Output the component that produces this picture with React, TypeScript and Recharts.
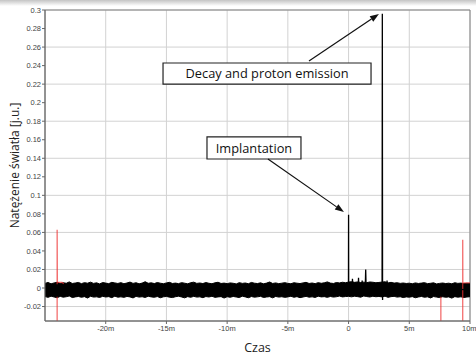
import React from 'react';
import {
  ComposedChart,
  Area,
  Line,
  XAxis,
  YAxis,
  CartesianGrid,
  ReferenceArea,
  ReferenceLine,
} from 'recharts';

// time axis in "m" units, light intensity in j.u.
const xTicks = [-20, -15, -10, -5, 0, 5, 10];
const yTicks = [-0.02, 0, 0.02, 0.04, 0.06, 0.08, 0.1, 0.12, 0.14, 0.16, 0.18, 0.2, 0.22, 0.24, 0.26, 0.28, 0.3];

// noise envelope of the black trace, sampled every 0.25m from -25m
const bandStart = -25;
const bandStep = 0.25;
const bandHigh = [
  0.005, 0.006, 0.0045, 0.0055, 0.0062, 0.0048, 0.0057, 0.0051, 0.0066, 0.0049, 0.0054, 0.006, 0.0047, 0.0058, 0.0052, 0.0063, 0.005, 0.0056, 0.0044, 0.0059,
  0.0053, 0.0047, 0.0061, 0.0055, 0.0049, 0.0058, 0.0046, 0.0054, 0.0064, 0.005, 0.0057, 0.0045, 0.0053, 0.0068, 0.0051, 0.0056, 0.0048, 0.0059, 0.0052, 0.0046,
  0.0055, 0.0061, 0.0049, 0.0053, 0.0047, 0.0058, 0.0052, 0.0045, 0.0057, 0.0063, 0.005, 0.0054, 0.0048, 0.0059, 0.0051, 0.0046, 0.0056, 0.0062, 0.0049, 0.0053,
  0.0047, 0.0055, 0.0051, 0.0044, 0.0058, 0.005, 0.0054, 0.0046, 0.006, 0.0052, 0.0048, 0.0056, 0.0045, 0.0053, 0.0065, 0.0049, 0.0055, 0.0047, 0.0052, 0.0058,
  0.005, 0.0046, 0.0057, 0.0052, 0.0048, 0.0055, 0.0061, 0.0049, 0.0054, 0.0047, 0.0058, 0.0051, 0.0056, 0.0066, 0.0053, 0.0049, 0.0059, 0.0055, 0.0062, 0.0057,
  0.0064, 0.0068, 0.0061, 0.0066, 0.0059, 0.0063, 0.0058, 0.0065, 0.0062, 0.0057, 0.006, 0.0064, 0.0067, 0.0055, 0.0061, 0.0053, 0.0057, 0.005, 0.0054, 0.0049,
  0.0052, 0.0046, 0.0055, 0.0049, 0.0053, 0.0058, 0.0047, 0.0051, 0.0056, 0.0044, 0.005, 0.0054, 0.0048, 0.0052, 0.0045, 0.0057, 0.005, 0.0053, 0.0047, 0.0051,
  0.0049,
];
const bandLow = [
  -0.0092, -0.0101, -0.0088, -0.0097, -0.0105, -0.009, -0.0099, -0.0094, -0.0086, -0.0103, -0.0096, -0.0091, -0.01, -0.0093, -0.0108, -0.0089, -0.0098, -0.0095, -0.0102, -0.009,
  -0.0097, -0.0093, -0.0104, -0.0088, -0.0099, -0.0095, -0.0101, -0.0091, -0.0096, -0.0107, -0.009, -0.0098, -0.0094, -0.0102, -0.0089, -0.0096, -0.01, -0.0092, -0.0105, -0.0095,
  -0.0091, -0.0099, -0.0103, -0.0094, -0.0088, -0.0097, -0.0106, -0.0093, -0.01, -0.009, -0.0098, -0.0095, -0.0104, -0.0092, -0.0097, -0.0089, -0.0101, -0.0096, -0.0093, -0.0108,
  -0.0094, -0.01, -0.0091, -0.0097, -0.0103, -0.0088, -0.0096, -0.0105, -0.0092, -0.0099, -0.0095, -0.009, -0.0102, -0.0097, -0.0093, -0.0106, -0.0091, -0.0098, -0.0094, -0.0101,
  -0.0096, -0.0089, -0.01, -0.0093, -0.0104, -0.0097, -0.009, -0.0099, -0.0095, -0.0102, -0.0088, -0.0096, -0.0093, -0.0101, -0.0091, -0.0098, -0.0094, -0.0087, -0.0096, -0.0092,
  -0.009, -0.0095, -0.0088, -0.0093, -0.0099, -0.0086, -0.0092, -0.0097, -0.0089, -0.0094, -0.0091, -0.0096, -0.0088, -0.0101, -0.0093, -0.009, -0.0098, -0.0094, -0.0103, -0.0096,
  -0.0099, -0.0093, -0.0105, -0.0097, -0.0091, -0.01, -0.0095, -0.0107, -0.0092, -0.0098, -0.0103, -0.0094, -0.01, -0.0096, -0.0109, -0.0093, -0.0099, -0.0095, -0.0102, -0.0097,
  -0.0094,
];

// black trace events (spikes above the noise)
const eventTimes = [-25, -0.01, 0, 0.01, 0.3, 0.32, 0.34, 0.55, 0.57, 0.59, 0.8, 0.82, 0.84, 1.1, 1.12, 1.14, 1.38, 1.41, 1.44, 2.76, 2.78, 2.8, 2.82, 3.15, 3.17, 3.19, 10];
const eventValues = [-0.002, -0.002, 0.079, 0.003, 0.003, 0.01, 0.004, 0.004, 0.006, 0.003, 0.004, 0.011, 0.004, 0.004, 0.008, 0.003, 0.004, 0.02, 0.004, 0.003, 0.296, -0.013, -0.002, 0.003, 0.008, 0.002, -0.002];

// red trace (second channel); only the parts poking out of the black noise (null = hidden)
const redTimes = [-24.0, -24.0, -24.0, -24.0, -24.0, -23.98, -23.6, -23.45, -23.4, 7.6, 7.6, 7.61, 9.4, 9.4, 9.41, 9.43, 10];
const redValues = [-0.036, -0.0095, null, 0.004, 0.063, 0.006, 0.006, 0.0045, null, -0.0095, -0.036, null, -0.036, 0.052, 0.0055, 0.0055, 0.0055];

const bandData = bandHigh.map((hi, i) => ({ t: bandStart + i * bandStep, hi, lo: bandLow[i] }));
const eventData = eventTimes.map((t, i) => ({ t, v: eventValues[i] }));
const redData = redTimes.map((t, i) => ({ t, v: redValues[i] }));

const Y_MIN = -0.0356;
const Y_MAX = 0.3;

const fmtX = (v: number) => (v === 0 ? '0' : `${v}m`);
const fmtY = (v: number) => String(Number(v.toFixed(2)));

const Arrow = (props: any) => {
  const { x1, y1, x2, y2 } = props;
  if (x1 == null) return null;
  const ang = Math.atan2(y2 - y1, x2 - x1);
  const len = 9;
  const w = 3.2;
  const bx = x2 - len * Math.cos(ang);
  const by = y2 - len * Math.sin(ang);
  const px = -Math.sin(ang) * w;
  const py = Math.cos(ang) * w;
  return (
    <g>
      <line x1={x1} y1={y1} x2={bx} y2={by} stroke="#111" strokeWidth={1.2} />
      <polygon points={`${x2},${y2} ${bx + px},${by + py} ${bx - px},${by - py}`} fill="#111" />
    </g>
  );
};

const boxLabel = (value: string) => ({
  value,
  position: 'center' as const,
  fill: '#111',
  fontSize: 12.8,
  fontFamily: 'Open Sans',
});

const App: React.FC = () => {
  return (
    <div style={{ position: 'absolute', left: 0, top: 0, width: 476, height: 355, background: '#fff' }}>
      <div style={{ position: 'absolute', left: 0, top: 0, width: 476, height: 6, background: 'linear-gradient(#c4c4c4, #ffffff)' }} />
      <div style={{ position: 'absolute', left: 0, top: 0 }}>
        <ComposedChart width={476} height={355} margin={{ top: 10, right: 6, bottom: 0, left: 5 }}>
          <CartesianGrid stroke="#d2d2d2" horizontalValues={yTicks} verticalValues={xTicks} />
          <XAxis
            dataKey="t"
            type="number"
            domain={[-25, 10]}
            ticks={xTicks}
            allowDataOverflow
            tickFormatter={fmtX}
            height={34}
            tickSize={3}
            tickMargin={2}
            stroke="#666"
            tick={{ fontSize: 7.5, fill: '#444', fontFamily: 'Liberation Sans' }}
            label={{
              content: ({ viewBox }: any) => (
                <text
                  x={viewBox.x + viewBox.width / 2}
                  y={viewBox.y + 31}
                  textAnchor="middle"
                  fontSize={12.5}
                  fontFamily="Open Sans"
                  fill="#222"
                >
                  Czas
                </text>
              ),
            }}
          />
          <YAxis
            type="number"
            domain={[Y_MIN, Y_MAX]}
            ticks={yTicks}
            allowDataOverflow
            tickFormatter={fmtY}
            width={40}
            tickSize={3}
            tickMargin={1}
            stroke="#666"
            tick={{ fontSize: 7.5, fill: '#444', fontFamily: 'Liberation Sans' }}
            label={{
              content: ({ viewBox }: any) => {
                const cx = viewBox.x + 9;
                const cy = viewBox.y + viewBox.height / 2;
                return (
                  <text
                    x={cx}
                    y={cy}
                    textAnchor="middle"
                    dominantBaseline="central"
                    transform={`rotate(-90 ${cx} ${cy})`}
                    fontSize={12}
                    fontFamily="Open Sans"
                    fill="#222"
                  >
                    Natężenie światła [j.u.]
                  </text>
                );
              },
            }}
          />
          <ReferenceArea x1={-25} x2={10} y1={Y_MIN} y2={Y_MAX} fill="none" stroke="#808080" ifOverflow="visible" />
          <Area
            data={bandData}
            dataKey={(d: any) => [d.lo, d.hi]}
            type="linear"
            stroke="#000"
            strokeWidth={1}
            fill="#000"
            fillOpacity={1}
            dot={false}
            isAnimationActive={false}
          />
          <Line data={redData} dataKey="v" type="linear" stroke="#ee3030" strokeOpacity={0.7} strokeWidth={1.3} dot={false} connectNulls={false} isAnimationActive={false} />
          <Line data={eventData} dataKey="v" type="linear" stroke="#000" strokeWidth={1.3} dot={false} isAnimationActive={false} />
          <ReferenceArea x1={-15.28} x2={1.85} y1={0.2201} y2={0.2428} fill="#fff" fillOpacity={1} stroke="#222" strokeWidth={1.2} label={boxLabel('Decay and proton emission')} />
          <ReferenceArea x1={-11.66} x2={-3.92} y1={0.1392} y2={0.163} fill="#fff" fillOpacity={1} stroke="#222" strokeWidth={1.2} label={boxLabel('Implantation')} />
          <ReferenceLine segment={[{ x: -3.26, y: 0.245 }, { x: 2.5, y: 0.2957 }]} shape={Arrow} />
          <ReferenceLine segment={[{ x: -6.64, y: 0.1392 }, { x: -0.38, y: 0.082 }]} shape={Arrow} />
        </ComposedChart>
      </div>
    </div>
  );
};

export default App;
